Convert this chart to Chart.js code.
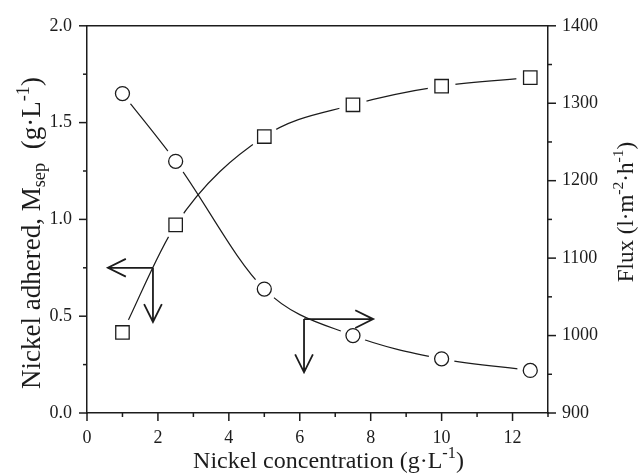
<!DOCTYPE html>
<html>
<head>
<meta charset="utf-8">
<script src="https://cdn.jsdelivr.net/npm/chart.js@4.4.0/dist/chart.umd.min.js"></script>
<style>
    html, body { margin: 0; padding: 0; background: #fff; }
</style>
</head>
<body>
<canvas id="myChart" width="641" height="474"></canvas>
<script>
'use strict'
// ==> data
let concentration = [1, 2.5, 5, 7.5, 10, 12.5];
let nickelAdhered = [1.65, 1.30, 0.64, 0.40, 0.28, 0.22];
let flux = [1004, 1143, 1257, 1298, 1322, 1333];
let xTicks = [0, 2, 4, 6, 8, 10, 12];
let leftTicks = [0.0, 0.5, 1.0, 1.5, 2.0];
let rightTicks = [900, 1000, 1100, 1200, 1300, 1400];
// arrows: corner (x, left-axis y), horizontal tip x, vertical tip y
let arrowCorners = [[1.86, 0.75], [6.12, 0.485]];
let arrowTipsX = [0.59, 8.07];
let arrowTipsY = [0.47, 0.21];

let ink = '#1c1c1c';
let serif = "'Liberation Serif', 'Times New Roman', serif";

function points(xs, ys) {
    let out = [];
    for (let i = 0; i < xs.length; i++) {
        out.push({ x: xs[i], y: ys[i] });
    }
    return out;
}

function lineSet(ys, axis) {
    return {
        data: points(concentration, ys), yAxisID: axis, borderColor: ink, borderWidth: 1.2,
        pointRadius: 0, cubicInterpolationMode: 'monotone', fill: false, order: 5
    };
}
function haloSet(ys, axis, r) {
    return {
        data: points(concentration, ys), yAxisID: axis, showLine: false, pointRadius: r,
        pointBackgroundColor: '#fff', pointBorderColor: '#fff', pointBorderWidth: 0, order: 3
    };
}
function markerSet(ys, axis, style, r) {
    return {
        data: points(concentration, ys), yAxisID: axis, showLine: false, pointStyle: style,
        pointRadius: r, pointBackgroundColor: '#fff', pointBorderColor: ink, pointBorderWidth: 1.3, order: 1
    };
}

// superscript / subscript text pieces
function richWidth(ctx, parts, size) {
    let w = 0;
    for (let p of parts) {
        let s = p.sup || p.sub ? size * 0.68 : size;
        ctx.font = s + 'px ' + serif;
        w += ctx.measureText(p.t).width;
    }
    return w;
}
function drawRich(ctx, parts, size, x, y, angle) {
    ctx.save();
    ctx.translate(x, y);
    ctx.rotate(angle);
    ctx.fillStyle = ink;
    ctx.textBaseline = 'alphabetic';
    ctx.textAlign = 'left';
    let cx = -richWidth(ctx, parts, size) / 2;
    for (let p of parts) {
        let s = p.sup || p.sub ? size * 0.68 : size;
        let dy = p.sup ? -size * 0.42 : (p.sub ? size * 0.2 : 0);
        ctx.font = s + 'px ' + serif;
        ctx.fillText(p.t, cx, dy);
        cx += ctx.measureText(p.t).width;
    }
    ctx.restore();
}

function drawArrow(ctx, x0, y0, x1, y1) {
    let a = Math.atan2(y1 - y0, x1 - x0);
    ctx.beginPath();
    ctx.moveTo(x0, y0);
    ctx.lineTo(x1, y1);
    ctx.moveTo(x1 - 20 * Math.cos(a - 0.46), y1 - 20 * Math.sin(a - 0.46));
    ctx.lineTo(x1, y1);
    ctx.lineTo(x1 - 20 * Math.cos(a + 0.46), y1 - 20 * Math.sin(a + 0.46));
    ctx.stroke();
}

function tickMarks(ctx, scale, major, minor, side) {
    for (let v = scale.min; v <= scale.max + 1e-9; v += minor) {
        let isMajor = Math.abs(v / major - Math.round(v / major)) < 1e-6;
        let len = isMajor ? 8 : 4;
        let p = scale.getPixelForValue(v);
        ctx.beginPath();
        if (side === 'bottom') {
            ctx.moveTo(p, scale.top); ctx.lineTo(p, scale.top + len);
        } else if (side === 'left') {
            ctx.moveTo(scale.right, p); ctx.lineTo(scale.right - len, p);
        } else {
            ctx.moveTo(scale.left, p); ctx.lineTo(scale.left + len, p);
        }
        ctx.stroke();
    }
}

let decorPlugin = {
    id: 'decor',
    afterDraw(chart) {
        let ctx = chart.ctx;
        let area = chart.chartArea;
        let sx = chart.scales.x, sy = chart.scales.y, sy1 = chart.scales.y1;
        ctx.save();
        ctx.strokeStyle = ink;
        ctx.lineWidth = 1.5;
        // top frame line
        ctx.beginPath();
        ctx.moveTo(area.left, area.top);
        ctx.lineTo(area.right, area.top);
        ctx.stroke();
        tickMarks(ctx, sx, 2, 1, 'bottom');
        tickMarks(ctx, sy, 0.5, 0.25, 'left');
        tickMarks(ctx, sy1, 100, 50, 'right');
        // arrows
        ctx.lineWidth = 1.8;
        for (let i = 0; i < arrowCorners.length; i++) {
            let cx = sx.getPixelForValue(arrowCorners[i][0]);
            let cy = sy.getPixelForValue(arrowCorners[i][1]);
            drawArrow(ctx, cx, cy, sx.getPixelForValue(arrowTipsX[i]), cy);
            drawArrow(ctx, cx, cy, cx, sy.getPixelForValue(arrowTipsY[i]));
        }
        ctx.restore();
        // axis titles
        drawRich(ctx, [{ t: 'Nickel concentration (g·L' }, { t: '-1', sup: true }, { t: ')' }],
            24, (area.left + area.right) / 2 + 11, 468, 0);
        drawRich(ctx, [{ t: 'Nickel adhered, M' }, { t: 'sep', sub: true }, { t: '  (g·L' }, { t: '-1', sup: true }, { t: ')' }],
            27, 40, 233, -Math.PI / 2);
        drawRich(ctx, [{ t: 'Flux (l·m' }, { t: '-2', sup: true }, { t: '·h' }, { t: '-1', sup: true }, { t: ')' }],
            23, 633, 212, -Math.PI / 2);
    }
};

function tickFont() {
    return { family: serif, size: 18 };
}

let ctx = document.getElementById('myChart').getContext('2d');
let myChart = new Chart(ctx, {
    type: 'line',
    data: {
        datasets: [
            lineSet(nickelAdhered, 'y'),
            lineSet(flux, 'y1'),
            haloSet(nickelAdhered, 'y', 13),
            haloSet(flux, 'y1', 14),
            markerSet(nickelAdhered, 'y', 'circle', 7),
            markerSet(flux, 'y1', 'rect', 9.5)
        ]
    },
    options: {
        responsive: false,
        animation: false,
        layout: { padding: { top: 25, left: 0, right: 0, bottom: 0 } },
        plugins: { legend: { display: false }, tooltip: { enabled: false } },
        scales: {
            x: {
                type: 'linear', position: 'bottom', min: 0, max: 13,
                afterFit: function (s) { s.height = 61; },
                afterBuildTicks: function (s) { s.ticks = xTicks.map(v => ({ value: v })); },
                grid: { display: false, drawTicks: false },
                border: { display: true, color: ink, width: 1.5 },
                ticks: { font: tickFont(), color: ink, padding: 14, maxRotation: 0 }
            },
            y: {
                type: 'linear', position: 'left', min: 0, max: 2,
                afterFit: function (s) { s.width = 87; },
                afterBuildTicks: function (s) { s.ticks = leftTicks.map(v => ({ value: v })); },
                grid: { display: false, drawTicks: false },
                border: { display: true, color: ink, width: 1.5 },
                ticks: { font: tickFont(), color: ink, padding: 15, callback: v => v.toFixed(1) }
            },
            y1: {
                type: 'linear', position: 'right', min: 900, max: 1400,
                afterFit: function (s) { s.width = 93; },
                afterBuildTicks: function (s) { s.ticks = rightTicks.map(v => ({ value: v })); },
                grid: { display: false, drawTicks: false },
                border: { display: true, color: ink, width: 1.5 },
                ticks: { font: tickFont(), color: ink, padding: 14, callback: v => String(v) }
            }
        }
    },
    plugins: [decorPlugin]
});
</script>
</body>
</html>
